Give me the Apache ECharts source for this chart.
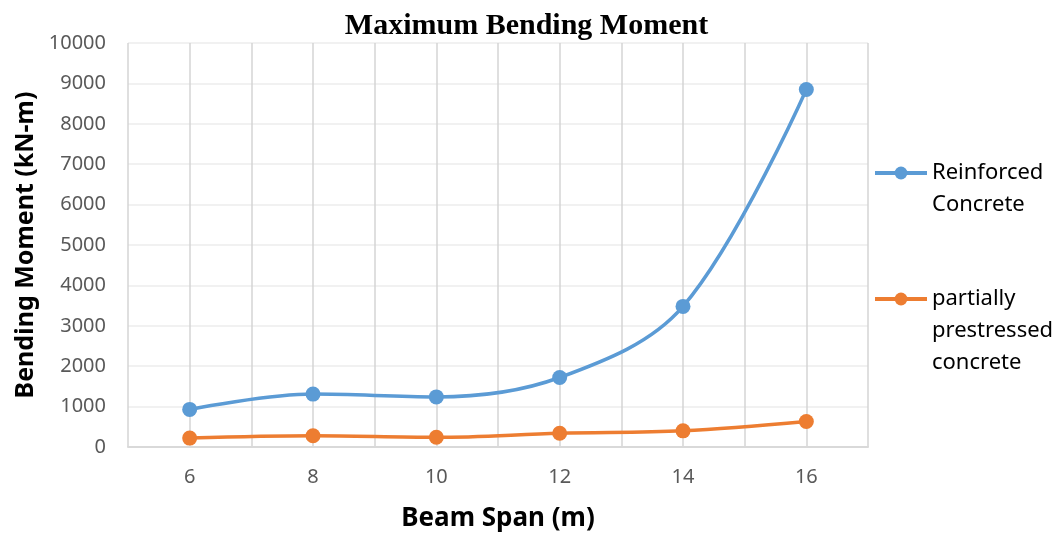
<!DOCTYPE html>
<html>
<head>
<meta charset="utf-8">
<script src="https://cdn.jsdelivr.net/npm/echarts@6/dist/echarts.min.js"></script>
<style>
  html, body { margin: 0; padding: 0; background: #fff; }
  #main { width: 1053px; height: 533px; }
</style>
</head>
<body>
<div id="main"></div>
<script>
// beam span (m)
var spans = [6, 8, 10, 12, 14, 16];
// maximum bending moment (kN-m)
var reinforced = [930, 1310, 1240, 1720, 3480, 8850];
var partial = [220, 280, 240, 340, 400, 630];
var xTicks = [6, 8, 10, 12, 14, 16];

var seriesNames = ['Reinforced\nConcrete', 'partially\nprestressed\nconcrete'];
var colors = ['#5b9bd5', '#ed7d31'];

function pairs(xs, ys) {
    return xs.map(function (x, i) { return [x, ys[i]]; });
}

// legend text is centred on the icon, so pad blank lines above
// to keep the icon beside the first line
function padTop(name) {
    var n = name.split('\n').length - 1;
    var pre = '';
    for (var i = 0; i < n; i++) pre += ' \n';
    return pre + name;
}

var myChart = echarts.init(document.getElementById('main'));
var lineH = 32;

var legendBase = {
    left: 873, padding: 0, itemWidth: 52, itemHeight: 16, itemGap: 6,
    formatter: padTop,
    lineStyle: { width: 4 },
    textStyle: { fontFamily: 'Noto Sans', fontSize: 22, color: '#000', lineHeight: lineH }
};

var option = {
    animation: false,
    title: {
        text: 'Maximum Bending Moment',
        left: 'center',
        top: 6,
        textStyle: { fontFamily: 'Liberation Serif', fontWeight: 'bold', fontSize: 30, color: '#000' }
    },
    legend: [
        Object.assign({}, legendBase, { data: [seriesNames[0]], top: 173 - 1.5 * lineH }),
        Object.assign({}, legendBase, { data: [seriesNames[1]], top: 299 - 2.5 * lineH })
    ],
    grid: { left: 128, right: 185, top: 43, bottom: 86, containLabel: false, outerBoundsMode: 'none' },
    xAxis: {
        type: 'value',
        min: 5, max: 17, interval: 1,
        name: 'Beam Span (m)',
        nameLocation: 'middle',
        nameGap: 59,
        nameTextStyle: { fontFamily: 'Noto Sans', fontWeight: 'bold', fontSize: 26, color: '#000' },
        axisLine: { show: true, lineStyle: { color: '#d9d9d9', width: 2 } },
        axisTick: { show: false },
        axisLabel: {
            margin: 20,
            fontFamily: 'Noto Sans', fontSize: 20, color: '#595959',
            formatter: function (v) { return xTicks.indexOf(v) >= 0 ? String(v) : ''; }
        },
        splitLine: { show: true, lineStyle: { color: '#d4d4d4', width: 1.5 } }
    },
    yAxis: {
        type: 'value',
        min: 0, max: 10000, interval: 1000,
        name: 'Bending Moment (kN-m)',
        nameLocation: 'middle',
        nameGap: 86,
        nameTextStyle: { fontFamily: 'Noto Sans', fontWeight: 'bold', fontSize: 25, color: '#000' },
        axisLine: { show: false },
        axisTick: { show: false },
        axisLabel: {
            margin: 22, fontFamily: 'Noto Sans', fontSize: 20, color: '#595959',
            formatter: function (v) { return String(v); }
        },
        splitLine: { show: true, lineStyle: { color: '#ececec', width: 1.5 } }
    },
    series: [
        {
            name: seriesNames[0],
            type: 'line',
            data: pairs(spans, reinforced),
            smooth: 0.35,
            symbol: 'circle', symbolSize: 15,
            itemStyle: { color: colors[0] },
            lineStyle: { color: colors[0], width: 3.5 }
        },
        {
            name: seriesNames[1],
            type: 'line',
            data: pairs(spans, partial),
            smooth: 0.35,
            symbol: 'circle', symbolSize: 15,
            itemStyle: { color: colors[1] },
            lineStyle: { color: colors[1], width: 3.5 }
        }
    ]
};

option && myChart.setOption(option);
</script>
</body>
</html>
